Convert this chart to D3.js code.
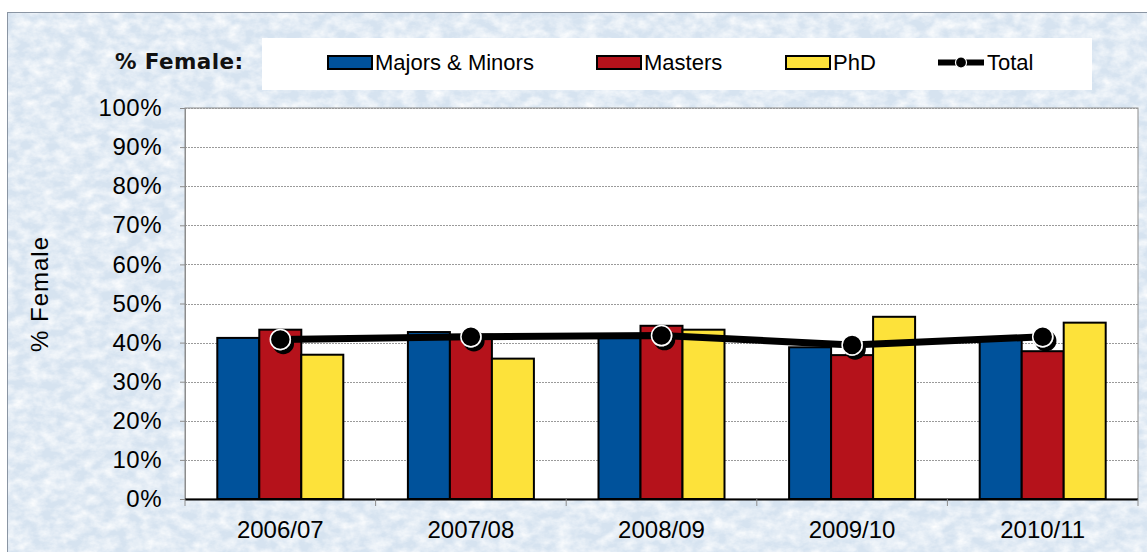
<!DOCTYPE html>
<html>
<head>
<meta charset="utf-8">
<script src="https://cdn.jsdelivr.net/npm/d3@7"></script>
<style>
  body { margin: 0; background: #fff; }
  svg { display: block; font-family: Arial, "Liberation Sans", sans-serif; }
</style>
</head>
<body>
<div id="chart"></div>
<script>
const width = 1147;
const height = 552;

// data
const years = ["2006/07", "2007/08", "2008/09", "2009/10", "2010/11"];
const majorsMinors = [41.2, 42.7, 41.5, 38.8, 40.9];
const masters = [43.3, 42.0, 44.3, 36.8, 37.8];
const phd = [36.9, 35.9, 43.3, 46.6, 45.1];
const total = [40.8, 41.5, 41.8, 39.4, 41.5];
const yTicks = [0, 10, 20, 30, 40, 50, 60, 70, 80, 90, 100];

const series = [
  { name: "Majors & Minors", values: majorsMinors, color: "#00529b" },
  { name: "Masters", values: masters, color: "#b5121b" },
  { name: "PhD", values: phd, color: "#fde23a" }
];

const margin = { top: 108, right: 9, bottom: 53, left: 185 };
const plotW = width - margin.left - margin.right;
const plotH = height - margin.top - margin.bottom;

const svg = d3.select("#chart").append("svg").attr("width", width).attr("height", height);

// textured light blue background
const defs = svg.append("defs");
const tex = defs.append("filter").attr("id", "tex").attr("x", 0).attr("y", 0).attr("width", "100%").attr("height", "100%");
tex.append("feTurbulence").attr("type", "fractalNoise").attr("baseFrequency", "0.07 0.1").attr("numOctaves", 4).attr("seed", 11).attr("result", "noise");
tex.append("feColorMatrix").attr("in", "noise").attr("type", "matrix")
  .attr("values", "0 0 0 0 1  0 0 0 0 1  0 0 0 0 1  0 0 0 1.5 -0.45").attr("result", "tint");
tex.append("feComposite").attr("in", "tint").attr("in2", "SourceGraphic").attr("operator", "in");

const shadow = defs.append("filter").attr("id", "shadow").attr("x", "-50%").attr("y", "-50%").attr("width", "200%").attr("height", "200%");
shadow.append("feOffset").attr("in", "SourceAlpha").attr("dx", 3).attr("dy", 4).attr("result", "off");
shadow.append("feMerge").call(m => { m.append("feMergeNode").attr("in", "off"); m.append("feMergeNode").attr("in", "SourceGraphic"); });

svg.append("rect").attr("x", 7).attr("y", 12).attr("width", width - 7).attr("height", height - 12)
  .attr("fill", "#d6e3f0");
svg.append("rect").attr("x", 7).attr("y", 12).attr("width", width - 7).attr("height", height - 12)
  .attr("fill", "#fff").attr("filter", "url(#tex)");
svg.append("rect").attr("x", 7.5).attr("y", 12.5).attr("width", width - 7).attr("height", height - 12)
  .attr("fill", "none").attr("stroke", "#8a95a3").attr("stroke-width", 1);

// legend
svg.append("text").attr("x", 115).attr("y", 69).attr("font-family", "Verdana, 'DejaVu Sans', sans-serif")
  .attr("font-weight", "bold").attr("font-size", 21.5).attr("letter-spacing", 0.4).attr("fill", "#111").text("% Female:");

const legend = svg.append("g");
legend.append("rect").attr("x", 262).attr("y", 38).attr("width", 830).attr("height", 52).attr("fill", "#fff");
const legendX = [328, 597, 786];
series.forEach((s, i) => {
  legend.append("rect").attr("x", legendX[i]).attr("y", 56).attr("width", 44).attr("height", 13)
    .attr("fill", s.color).attr("stroke", "#000").attr("stroke-width", 2);
  legend.append("text").attr("x", legendX[i] + 47).attr("y", 70).attr("font-size", 22).attr("fill", "#000")
    .text(s.name);
});
legend.append("line").attr("x1", 938).attr("x2", 984).attr("y1", 62.5).attr("y2", 62.5)
  .attr("stroke", "#000").attr("stroke-width", 6);
legend.append("circle").attr("cx", 961).attr("cy", 62.5).attr("r", 5.5).attr("fill", "#000").attr("stroke", "#fff").attr("stroke-width", 1.2);
legend.append("text").attr("x", 987).attr("y", 70).attr("font-size", 22).attr("fill", "#000").text("Total");

// plot
const g = svg.append("g").attr("transform", `translate(${margin.left},${margin.top})`);

const x = d3.scaleBand().domain(years).range([0, plotW]).paddingInner(0).paddingOuter(0);
const xSub = d3.scaleBand().domain(series.map(s => s.name)).range([0, 126]);
const y = d3.scaleLinear().domain([0, 100]).range([plotH, 0]);

g.append("rect").attr("width", plotW).attr("height", plotH).attr("fill", "#fff")
  .attr("stroke", "#8c8c8c").attr("stroke-width", 1);

g.append("g").selectAll("line").data(yTicks.filter(t => t > 0)).join("line")
  .attr("x1", 0).attr("x2", plotW).attr("y1", d => Math.round(y(d)) + 0.5).attr("y2", d => Math.round(y(d)) + 0.5)
  .attr("stroke", "#9a9a9a").attr("stroke-dasharray", "2,1").attr("stroke-width", 1);

const yAxis = g.append("g")
  .call(d3.axisLeft(y).tickValues(yTicks).tickFormat(d => d + "%").tickSize(5).tickPadding(18));
yAxis.select(".domain").attr("stroke", "#8c8c8c");
yAxis.selectAll(".tick line").attr("stroke", "#8c8c8c");
yAxis.selectAll("text").attr("font-size", 24).attr("letter-spacing", 0.5)
  .attr("font-family", "Arial, 'Liberation Sans', sans-serif").attr("fill", "#000");

// bars
const groups = g.append("g").selectAll("g").data(years).join("g")
  .attr("transform", d => `translate(${x(d) + (x.bandwidth() - 126) / 2},0)`);
groups.selectAll("rect").data((d, i) => series.map(s => ({ name: s.name, color: s.color, v: s.values[i] }))).join("rect")
  .attr("x", d => xSub(d.name))
  .attr("y", d => y(d.v))
  .attr("width", xSub.bandwidth())
  .attr("height", d => plotH - y(d.v))
  .attr("fill", d => d.color)
  .attr("stroke", "#000").attr("stroke-width", 2);

// x axis
const xAxis = g.append("g").attr("transform", `translate(0,${plotH})`);
xAxis.append("line").attr("x1", 0).attr("x2", plotW).attr("y1", 0.5).attr("y2", 0.5).attr("stroke", "#000").attr("stroke-width", 2);
xAxis.selectAll(".sep").data(d3.range(years.length + 1)).join("line")
  .attr("x1", i => i * x.step()).attr("x2", i => i * x.step()).attr("y1", 0).attr("y2", 7)
  .attr("stroke", "#8c8c8c");
xAxis.selectAll("text").data(years).join("text")
  .attr("x", d => x(d) + x.bandwidth() / 2).attr("y", 39)
  .attr("text-anchor", "middle").attr("font-size", 24).attr("fill", "#000").text(d => d);

// total line
const line = d3.line().x((d, i) => x(years[i]) + x.bandwidth() / 2).y(d => y(d));
g.append("path").datum(total).attr("d", line).attr("fill", "none")
  .attr("stroke", "#000").attr("stroke-width", 7).attr("stroke-linejoin", "round");
g.append("g").selectAll("circle").data(total).join("circle")
  .attr("cx", (d, i) => x(years[i]) + x.bandwidth() / 2).attr("cy", d => y(d))
  .attr("r", 10).attr("fill", "#000").attr("stroke", "#fff").attr("stroke-width", 1.5)
  .attr("filter", "url(#shadow)");

// y axis title
svg.append("text").attr("transform", "translate(48,294) rotate(-90)")
  .attr("text-anchor", "middle").attr("font-size", 24).attr("letter-spacing", 1).attr("fill", "#000").text("% Female");
</script>
</body>
</html>
